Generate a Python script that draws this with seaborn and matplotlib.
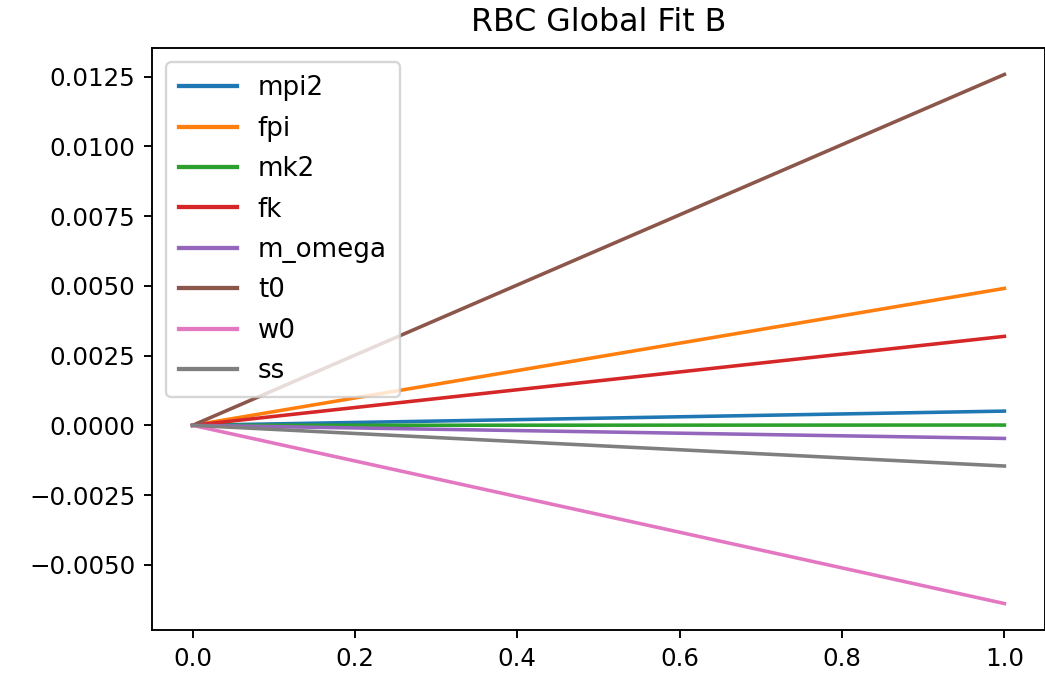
import matplotlib
matplotlib.use("Agg")
import matplotlib.pyplot as plt
import seaborn as sns
import pandas as pd

# Parameter shifts along the fit direction (start at 0, end at 1)
x_values = [0.0, 1.0]
names = ["mpi2", "fpi", "mk2", "fk", "m_omega", "t0", "w0", "ss"]
end_values = [0.00051, 0.00491, 0.00001, 0.00319, -0.00047, 0.01258, -0.00639, -0.00146]
start_values = [0.0] * len(names)

rows = []
for name, y0, y1 in zip(names, start_values, end_values):
    rows.append({"x": x_values[0], "y": y0, "param": name})
    rows.append({"x": x_values[1], "y": y1, "param": name})
df = pd.DataFrame(rows)

dpi = 171
fig = plt.figure(figsize=(1045 / dpi, 678 / dpi), dpi=dpi)
ax = fig.add_axes([152 / 1045, (678 - 630) / 678, 893 / 1045, 582 / 678])

palette = {n: f"C{i}" for i, n in enumerate(names)}
for name in names:
    sub = df[df["param"] == name]
    sns.lineplot(data=sub, x="x", y="y", ax=ax, color=palette[name], label=name)

ax.set_xlabel("")
ax.set_ylabel("")
ax.tick_params(labelsize=10.3)
ax.set_title("RBC Global Fit B", fontsize=13.3, pad=7)
leg = ax.legend(loc="upper left", fontsize=11, handlelength=2.2,
                handletextpad=0.8, borderaxespad=0.55, borderpad=0.5,
                labelspacing=0.55)
for line in leg.get_lines():
    line.set_linewidth(1.8)

fig.savefig("out.png", dpi=dpi)
